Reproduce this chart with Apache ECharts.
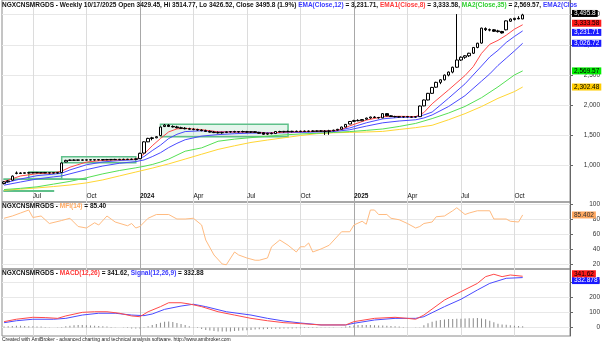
<!DOCTYPE html>
<html><head><meta charset="utf-8">
<script src="https://cdn.jsdelivr.net/npm/echarts@6/dist/echarts.min.js"></script>
<style>html,body{margin:0;padding:0;background:#fff}#c{width:604px;height:347px}</style>
</head><body><div id="c"></div>
<script>
// ---------- DATA ----------
const startDate = '2023-05-19';   // first weekly bar (Friday)
const futureWeeks = 11;           // empty space on the right of the last bar

const open = [705,735,760,872,880,874,884,880,888,882,886,880,884,878,888,1062,1088,1094,1090,1096,1092,1098,1094,1100,1096,1102,1098,1104,1100,1106,1102,1108,1104,1116,1210,1395,1450,1462,1500,1648,1672,1650,1642,1628,1620,1612,1604,1598,1590,1580,1568,1556,1548,1544,1550,1560,1564,1558,1566,1562,1556,1562,1552,1546,1522,1536,1532,1566,1562,1568,1564,1570,1566,1572,1568,1574,1570,1576,1572,1568,1578,1588,1604,1640,1690,1734,1750,1744,1770,1790,1806,1798,1792,1862,1826,1814,1810,1806,1812,1808,1804,1812,1990,2088,2198,2300,2380,2422,2500,2550,2630,2750,2796,2820,2862,2958,3030,3270,3252,3250,3232,3222,3250,3392,3420,3440,3429.45];
const high = [748,760,838,905,892,890,892,894,896,892,896,890,894,892,1052,1098,1102,1104,1100,1106,1104,1108,1106,1110,1108,1112,1110,1114,1112,1116,1114,1118,1120,1215,1405,1462,1478,1490,1648,1690,1685,1668,1660,1645,1638,1628,1620,1612,1604,1596,1584,1572,1566,1562,1568,1574,1578,1572,1580,1576,1570,1574,1560,1552,1546,1550,1572,1578,1576,1580,1578,1582,1580,1584,1582,1586,1584,1588,1590,1594,1596,1610,1646,1690,1740,1760,1768,1772,1796,1812,1820,1808,1872,1870,1836,1826,1822,1820,1824,1820,1818,1995,2095,2205,2305,2390,2430,2510,2560,2640,3510,2810,2830,2870,2965,3035,3285,3290,3270,3262,3250,3232,3405,3438,3448,3475,3514.77];
const low = [690,722,752,858,862,868,872,874,876,874,878,870,872,870,884,1056,1078,1082,1080,1086,1084,1088,1086,1090,1088,1092,1090,1094,1092,1096,1094,1098,1098,1110,1200,1390,1420,1455,1495,1640,1640,1632,1620,1612,1602,1596,1588,1580,1570,1560,1548,1540,1534,1530,1540,1548,1550,1546,1552,1548,1542,1546,1530,1512,1508,1520,1528,1552,1550,1556,1552,1558,1554,1560,1556,1562,1558,1564,1510,1512,1570,1580,1600,1636,1686,1724,1736,1738,1762,1778,1790,1780,1788,1818,1806,1800,1798,1796,1800,1796,1794,1808,1985,2082,2190,2290,2350,2410,2480,2530,2620,2735,2770,2800,2850,2945,3020,3230,3225,3215,3205,3188,3240,3380,3405,3425,3426.52];
const close = [732,748,828,880,872,884,880,888,882,886,880,884,878,886,1045,1088,1094,1090,1096,1092,1098,1094,1100,1096,1102,1098,1104,1100,1106,1102,1108,1104,1114,1205,1395,1452,1462,1480,1640,1672,1650,1642,1628,1620,1612,1604,1598,1590,1580,1568,1556,1548,1544,1550,1560,1564,1558,1566,1562,1556,1562,1552,1538,1520,1536,1530,1566,1562,1568,1564,1570,1566,1572,1568,1574,1570,1576,1572,1568,1578,1588,1602,1640,1684,1732,1748,1744,1764,1788,1806,1798,1792,1862,1826,1814,1810,1806,1812,1808,1804,1812,1988,2088,2198,2296,2380,2422,2500,2550,2630,2750,2796,2820,2862,2958,3028,3278,3252,3245,3226,3220,3198,3398,3428,3440,3430.6,3495.8];

// moving averages: [week number, value]
const ema8 = [[0,738],[4,830],[8,868],[12,880],[14,910],[16,975],[20,1060],[24,1088],[28,1098],[32,1106],[34,1190],[36,1330],[38,1450],[40,1560],[42,1610],[44,1618],[48,1596],[52,1560],[56,1557],[60,1558],[64,1538],[68,1556],[72,1564],[76,1570],[80,1580],[82,1600],[84,1660],[88,1755],[92,1810],[96,1818],[100,1812],[102,1880],[104,2025],[108,2255],[112,2493],[114,2640],[116,2860],[118,3010],[120,3075],[122,3160],[124,3260],[126,3333.58]];
const ema12 = [[0,712],[4,780],[8,835],[12,860],[14,875],[16,930],[20,1015],[24,1062],[28,1085],[32,1100],[34,1150],[36,1250],[38,1340],[40,1450],[42,1520],[44,1565],[48,1578],[52,1563],[56,1558],[60,1558],[64,1546],[68,1552],[72,1560],[76,1566],[80,1574],[84,1625],[88,1710],[92,1775],[96,1800],[100,1806],[102,1840],[104,1888],[108,2118],[112,2356],[116,2650],[118,2800],[120,2910],[122,3040],[124,3140],[126,3231.71]];
const ema2 = [[0,678],[4,730],[8,780],[12,815],[14,830],[16,865],[20,935],[24,995],[28,1040],[32,1068],[34,1095],[36,1150],[38,1215],[40,1300],[42,1370],[44,1430],[48,1490],[52,1515],[56,1530],[60,1540],[64,1540],[68,1546],[72,1552],[76,1558],[80,1565],[84,1595],[88,1655],[92,1710],[96,1740],[100,1760],[102,1790],[104,1840],[108,1980],[112,2160],[116,2400],[118,2520],[120,2660],[122,2780],[124,2900],[126,3026.72]];
const ma35 = [[0,605],[4,625],[8,650],[12,695],[16,740],[20,800],[24,865],[28,920],[32,965],[34,990],[36,1020],[38,1060],[40,1110],[44,1240],[48,1295],[52,1405],[56,1440],[60,1465],[64,1488],[68,1510],[72,1525],[76,1537],[80,1550],[84,1565],[88,1585],[92,1608],[96,1650],[100,1700],[104,1780],[108,1872],[112,1981],[116,2126],[120,2305],[124,2502],[126,2569.57]];
const maLong = [[0,595],[4,612],[8,632],[12,655],[16,680],[20,715],[24,765],[28,830],[32,895],[36,960],[40,1030],[44,1110],[48,1190],[52,1270],[56,1330],[60,1385],[64,1425],[68,1462],[72,1500],[76,1530],[80,1545],[84,1552],[88,1558],[92,1568],[96,1600],[100,1630],[104,1669],[108,1761],[112,1862],[116,1979],[120,2115],[124,2227],[126,2302.48]];

const mfi = [[0,81],[2,84],[4,88],[6,92],[7,82],[9,84],[11,74],[14,78],[16,81],[18,70],[20,68],[22,75],[23,72],[25,84],[27,76],[30,71],[31,74],[32,68],[33,70],[35,81],[37,86],[40,86],[42,80],[44,80],[46,81],[48,72],[49,52],[51,32],[53,20],[54,19],[56,36],[57,32],[59,28],[61,25],[62,25],[64,28],[65,43],[67,52],[69,45],[71,36],[72,43],[73,43],[74,48],[75,36],[77,40],[79,45],[82,63],[84,63],[85,72],[87,77],[88,73],[89,92],[90,92],[91,86],[93,86],[94,81],[96,79],[98,74],[100,68],[101,70],[102,74],[104,76],[105,83],[107,84],[109,91],[110,95],[112,86],[113,88],[115,91],[118,91],[119,80],[122,80],[123,77],[125,76],[126,85.402]];

const macd = [[0,39],[3,55],[7,68],[10,66],[13,61],[15,77],[19,101],[22,105],[25,105],[28,95],[31,77],[33,72],[35,105],[38,139],[40,165],[43,165],[45,157],[48,139],[52,105],[56,83],[60,61],[64,45],[68,32],[72,26],[77,17],[83,17],[85,39],[90,61],[95,68],[98,61],[100,55],[102,83],[107,183],[111,239],[115,294],[117,339],[119,355],[121,339],[123,350],[126,341.62]];
const signal = [[0,32],[3,45],[7,55],[12,55],[15,61],[19,83],[23,95],[27,95],[31,83],[34,79],[36,90],[39,121],[43,143],[46,155],[49,139],[54,105],[60,83],[64,61],[68,43],[72,30],[77,17],[83,17],[85,28],[90,50],[95,61],[100,61],[102,72],[107,139],[111,188],[115,250],[118,294],[122,328],[126,332.878]];
const hist = [6,8,10,12,12,10,9,8,7,6, 4,2,0,-2, 4,8,12,15,16,16,15,14,12,10,8,6,4,2,0,-2,-4, -6,-7,-6,-3, 8,16,24,32,38,40,36,30,24,16,8,2, -4,-10,-16,-20,-24,-26,-27,-27,-26,-24,-22,-20,-18,-16,-14,-12,-11,-10,-9,-8,-8,-7,-6,-6,-5,-5, -4,-4,-3,-3,-2,-2,-2,-1,0,2,6,10, 14,16,17,17,16,15,14,13,12,10,8,6,4,2, 0,-2,2, 15,28,38,45,50,54,56,57,58,59,60,61,62,63,60,55,45,35,25, 20,18,15,12,10,8.742];

// consolidation boxes: [first week, last week, low, high]
const boxes = [[0,12,576,586],[0,20,774,779],[6,14,779,895],[14,32,1050,1149],[38,69,1480,1685]];

const priceTicks = [1000,1500,2000,2500,3000,3500];
const mfiTicks = [20,40,60,80,100];
const macdTicks = [0,100,200,300];
const monthNames = ['Jan','Feb','Mar','Apr','May','Jun','Jul','Aug','Sep','Oct','Nov','Dec'];

// ---------- BUILD ----------
const categories = [];
const d0 = new Date(startDate + 'T00:00:00Z');
for (let k = 0; k < close.length + futureWeeks; k++) {
  categories.push(new Date(d0.getTime() + k * 7 * 86400000).toISOString().slice(0, 10));
}
const monthOf = i => +categories[i].slice(5, 7) - 1;
const isQuarterStart = i => i > 0 && i < close.length && monthOf(i) % 3 === 0 && monthOf(i) !== monthOf(i - 1);
const candles = close.map((c, i) => [open[i], c, low[i], high[i]]);
const toPairs = arr => arr.map(p => [categories[p[0]], p[1]]);
const fmt = v => new Intl.NumberFormat('en-US', {maximumFractionDigits: 3}).format(v);
const FONT = 'Arial, "Liberation Sans", sans-serif';
const FS = 6.5;
const lastOf = arr => arr[arr.length - 1][1];

function tag(value, bg, fg, dy) {
  return {
    symbol: 'none', silent: true, animation: false,
    lineStyle: {color: 'rgba(0,0,0,0)', width: 1, type: 'solid'},
    label: {show: true, position: 'end', distance: 2, offset: [0, dy || 0], formatter: fmt(value), backgroundColor: bg, color: fg,
            padding: [1, 2, 0, 2], fontSize: FS, fontFamily: FONT, lineHeight: 6},
    emphasis: {disabled: true},
    data: [{yAxis: value}]
  };
}

const gridBase = {left: 2, right: 34, show: true, borderColor: '#8a8a8a', borderWidth: 1, containLabel: false};
const grids = [
  Object.assign({top: 0, height: 202}, gridBase),
  Object.assign({top: 202, height: 67}, gridBase),
  Object.assign({top: 269, height: 67}, gridBase)
];

function xAxisFor(g, withLabels) {
  return {
    type: 'category', gridIndex: g, data: categories, boundaryGap: true,
    axisLine: {show: false}, axisTick: {show: false},
    axisLabel: {
      show: withLabels, inside: true, margin: 2, align: 'left', fontSize: FS, fontFamily: FONT, color: '#111',
      interval: (i) => isQuarterStart(i),
      formatter: (v, i) => { const m = +v.slice(5, 7) - 1; return m === 0 ? '{y|' + v.slice(0, 4) + '}' : monthNames[m]; },
      rich: {y: {fontWeight: 'bold', fontSize: FS, fontFamily: FONT, color: '#111'}}
    },
    splitLine: {show: true, alignWithLabel: true, interval: (i) => isQuarterStart(i),
      lineStyle: {color: ['#dcdcdc', '#dcdcdc', '#a8a8a8', '#dcdcdc'], width: 1}}
  };
}

function yAxisFor(g, min, max, ticks, fmtLabel) {
  return {
    type: 'value', gridIndex: g, position: 'right', min: min, max: max,
    axisLine: {show: true, lineStyle: {color: '#666'}},
    axisTick: {show: true, length: 3, customValues: ticks, lineStyle: {color: '#666'}},
    axisLabel: {customValues: ticks, align: 'right', margin: 30, fontSize: FS, fontFamily: FONT, color: '#333', formatter: fmtLabel},
    splitLine: {show: true, lineStyle: {color: '#e8e8e8', width: 1}}
  };
}

function lineSeries(data, color, xi, yi, tagBg, tagFg, z, dy) {
  return {
    type: 'line', xAxisIndex: xi, yAxisIndex: yi, data: toPairs(data), symbol: 'none',
    lineStyle: {color: color, width: 1}, animation: false, z: z || 2,
    markLine: tag(lastOf(data), tagBg, tagFg, dy)
  };
}

const option = {
  animation: false,
  backgroundColor: '#ffffff',
  textStyle: {fontFamily: FONT},
  title: [
    {left: 2, top: 2, padding: 0,
     text: '{k|NGXCNSMRGDS - Weekly 10/17/2025 Open 3429.45, Hi 3514.77, Lo 3426.52, Close 3495.8 (1.9%) }{b|EMA(Close,12)}{k| = 3,231.71, }{r|EMA1(Close,8)}{k| = 3,333.58, }{g|MA2(Close,35)}{k| = 2,569.57, }{b|EMA2(Clos}',
     textStyle: {rich: {
       k: {color: '#111', fontSize: FS, fontFamily: FONT},
       b: {color: '#3a3aff', fontSize: FS, fontFamily: FONT},
       r: {color: '#ff3a3a', fontSize: FS, fontFamily: FONT},
       g: {color: '#30d030', fontSize: FS, fontFamily: FONT}}}},
    {left: 2, top: 203, padding: 0,
     text: '{k|NGXCNSMRGDS - }{o|MFI(14)}{k| = 85.40}',
     textStyle: {rich: {k: {color: '#111', fontSize: FS, fontFamily: FONT}, o: {color: '#ffa860', fontSize: FS, fontFamily: FONT}}}},
    {left: 2, top: 270, padding: 0,
     text: '{k|NGXCNSMRGDS - }{r|MACD(12,26)}{k| = 341.62, }{b|Signal(12,26,9)}{k| = 332.88}',
     textStyle: {rich: {k: {color: '#111', fontSize: FS, fontFamily: FONT}, r: {color: '#ff3a3a', fontSize: FS, fontFamily: FONT}, b: {color: '#3a3aff', fontSize: FS, fontFamily: FONT}}}},
    {left: 2, top: 337, padding: 0,
     text: 'Created with AmiBroker - advanced charting and technical analysis software. http://www.amibroker.com',
     textStyle: {color: '#222', fontSize: 5, fontWeight: 'normal', fontFamily: FONT}}
  ],
  grid: grids,
  xAxis: [xAxisFor(0, true), xAxisFor(1, false), xAxisFor(2, false)],
  yAxis: [
    yAxisFor(0, 399, 3743.4, priceTicks, v => fmt(v)),
    yAxisFor(1, 13.33, 102.67, mfiTicks, v => String(v)),
    yAxisFor(2, -56.67, 390, macdTicks, v => String(v))
  ],
  series: [
    lineSeries(maLong, '#ffd633', 0, 0, '#ffcc00', '#000'),
    lineSeries(ma35, '#55e055', 0, 0, '#00ee00', '#000'),
    lineSeries(ema2, '#4a4aff', 0, 0, '#1a1aff', '#fff'),
    lineSeries(ema12, '#4a4aff', 0, 0, '#1a1aff', '#fff', 2, 1.5),
    lineSeries(ema8, '#ff4a4a', 0, 0, '#ff1a1a', '#000', 2, -1.5),
    {
      type: 'candlestick', xAxisIndex: 0, yAxisIndex: 0, data: candles, barWidth: 3,
      itemStyle: {color: '#ffffff', color0: '#000000', borderColor: '#000000', borderColor0: '#000000', borderWidth: 1},
      z: 3,
      markArea: {silent: true, itemStyle: {color: 'rgba(110,200,150,0.18)', borderColor: '#5fc08a', borderWidth: 1.5},
        data: boxes.map(b => [{coord: [categories[b[0]], b[2]]}, {coord: [categories[b[1]], b[3]]}])},
      markLine: tag(close[close.length - 1], '#000000', '#ffffff', -1.5)
    },
    lineSeries(mfi, '#ffbb80', 1, 1, '#ffa860', '#333'),
    {type: 'bar', xAxisIndex: 2, yAxisIndex: 2, data: hist, barWidth: 1, itemStyle: {color: '#8a8a8a'}, animation: false},
    lineSeries(signal, '#4a4aff', 2, 2, '#1a1aff', '#fff', 2, 3),
    lineSeries(macd, '#ff4a4a', 2, 2, '#ff1a1a', '#000', 3, -2.5)
  ]
};

const chart = echarts.init(document.getElementById('c'), null, {renderer: 'canvas'});
chart.setOption(option);
</script>
</body></html>
